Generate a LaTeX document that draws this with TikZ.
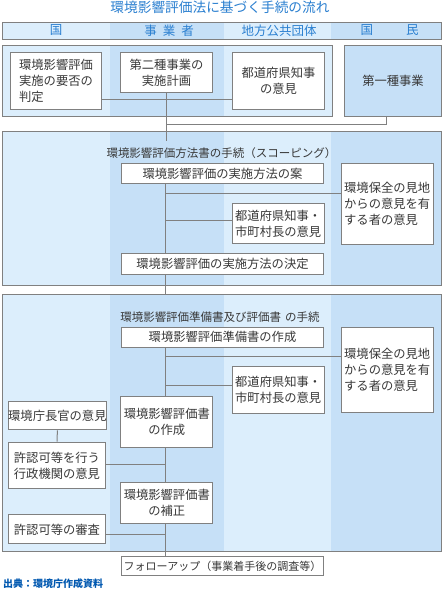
\documentclass[tikz,border=0pt]{standalone}
\usepackage{fontspec}
\setmainfont{Noto Sans CJK JP}
\definecolor{lite}{HTML}{DCEEFC}
\definecolor{dark}{HTML}{C6E0F7}
\definecolor{bord}{HTML}{808080}
\definecolor{txt}{HTML}{383838}
\definecolor{ttl}{HTML}{2A7FD0}
\definecolor{src}{HTML}{0058B0}
\tikzset{
  box/.style={draw=bord, fill=white, line width=1pt, text=txt, inner sep=0pt,
    align=center, anchor=north west, font=\fontsize{12.3}{16}\selectfont},
  frame/.style={draw=bord, line width=1pt},
  conn/.style={draw=bord, line width=1pt},
  sect/.style={text=txt, font=\fontsize{11.5}{14}\selectfont, inner sep=0pt},
  head/.style={text=ttl, font=\fontsize{12.5}{14}\selectfont, inner sep=0pt}
}
\newcommand\mycols[3]{%
  \fill[lite] (2,#1) rectangle (110,#2);
  \fill[dark] (110,#1) rectangle (224,#2);
  \fill[lite] (224,#1) rectangle (331,#2);
  \fill[dark] (331,#1) rectangle (#3,#2);}
\begin{document}
\begin{tikzpicture}[x=1pt,y=-1pt]
\useasboundingbox (0,0) rectangle (443,590);
\fill[white] (0,0) rectangle (443,590);
% title
\node[text=ttl, font=\fontsize{13.7}{15}\selectfont, inner sep=0pt] (title) at (220,7) {環境影響評価法に基づく手続の流れ};
% header
\mycols{22}{39.3}{441}
\draw[frame] (2,22) rectangle (441,39.3);
\node[head] (hk) at (56,30.5) {国};
\node[head] (hj) at (169,30.5) {事\hspace{6pt}業\hspace{6pt}者};
\node[head] (ht) at (279,30.5) {地方公共団体};
\node[head] (hm) at (389.5,30.5) {国\hspace{33pt}民};
% section 1
\fill[lite] (2,45) rectangle (110,116);
\fill[dark] (110,45) rectangle (224,116);
\fill[lite] (224,45) rectangle (332,116);
\draw[frame] (2,45) rectangle (332,116);
\node[draw=bord, line width=1pt, fill=dark, text=txt, inner sep=0pt, anchor=north west,
  minimum width=97pt, minimum height=71pt, font=\fontsize{12.3}{16}\selectfont] (daiichi) at (344,45) {第一種事業};
\node[box, minimum width=91.6pt, minimum height=56.7pt, align=left] (hantei) at (9.7,52) {環境影響評価\\実施の要否の\\判定};
\node[box, minimum width=92pt, minimum height=39.7pt] (dainishu) at (120,52) {第二種事業の\\実施計画};
\node[box, minimum width=92pt, minimum height=56.7pt] (chiji1) at (232,52) {都道府県知事\\の意見};
\coordinate (y99) at (0,99);
\coordinate (j1) at (0,124);
\coordinate (ja) at (386.7,0);
\draw[conn] (hantei.east |- y99) -- (chiji1.west |- y99);
\draw[conn] (dainishu.south) -- (dainishu.south |- j1) -- (ja |- j1) -- (ja |- daiichi.south);
% section 2
\mycols{131}{285}{441}
\draw[frame] (2,131) rectangle (441,285);
\coordinate (s2a) at (0,141);
\draw[conn] (dainishu.south |- j1) -- (dainishu.south |- s2a);
\node[sect] (t2) at (221.5,152.7) {環境影響評価方法書の手続（スコーピング）};
\node[box, minimum width=201.4pt, minimum height=19.7pt] (an) at (121.3,163.3) {環境影響評価の実施方法の案};
\node[box, minimum width=92pt, minimum height=81pt, align=left] (hozen1) at (340.7,163.3) {環境保全の見地\\からの意見を有\\する者の意見};
\node[box, minimum width=92pt, minimum height=40pt, align=left] (chiji2) at (231.7,203.3) {都道府県知事・\\市町村長の意見};
\node[box, minimum width=201.4pt, minimum height=21pt] (kettei) at (121.3,253.3) {環境影響評価の実施方法の決定};
\coordinate (sp) at (165.3,0);
\coordinate (y193) at (0,193);
\coordinate (y220) at (0,220);
\coordinate (y294) at (0,294.3);
\draw[conn] (sp |- an.south) -- (sp |- kettei.north);
\draw[conn] (sp |- y193) -- (hozen1.west |- y193);
\draw[conn] (sp |- y220) -- (chiji2.west |- y220);
\draw[conn] (sp |- kettei.south) -- (sp |- y294);
% section 3
\mycols{294.3}{551}{441}
\draw[frame] (2,294.3) rectangle (441,551);
\node[sect] (t3) at (220,317.3) {環境影響評価準備書及び評価書\hspace{4pt}の手続};
\node[box, minimum width=201.4pt, minimum height=20pt] (junbi) at (121.3,326.7) {環境影響評価準備書の作成};
\node[box, minimum width=92pt, minimum height=85.6pt, align=left] (hozen2) at (340.7,326.7) {環境保全の見地\\からの意見を有\\する者の意見};
\node[box, minimum width=92pt, minimum height=46.7pt, align=left] (chiji3) at (231.7,366) {都道府県知事・\\市町村長の意見};
\node[box, minimum width=92pt, minimum height=51pt] (sakusei) at (120.3,396.3) {環境影響評価書\\の作成};
\node[box, minimum width=97.6pt, minimum height=28pt] (choukan) at (7.7,401.3) {環境庁長官の意見};
\node[box, minimum width=97.6pt, minimum height=46.6pt, align=left] (gyousei) at (7.7,441.7) {許認可等を行う\\行政機関の意見};
\node[box, minimum width=92pt, minimum height=41.6pt] (hosei) at (120.3,481.7) {環境影響評価書\\の補正};
\node[box, minimum width=97.6pt, minimum height=29pt] (shinsa) at (7.7,514.3) {許認可等の審査};
\node[box, minimum width=201.4pt, minimum height=19pt, font=\fontsize{11}{14}\selectfont] (follow) at (121.3,556.3) {フォローアップ（事業着手後の調査等）};
\coordinate (y356) at (0,356);
\coordinate (y385) at (0,385);
\coordinate (y464) at (0,464);
\coordinate (y534) at (0,534.3);
\draw[conn] (sp |- junbi.south) -- (sp |- sakusei.north);
\draw[conn] (sp |- y356) -- (hozen2.west |- y356);
\draw[conn] (sp |- y385) -- (chiji3.west |- y385);
\draw[conn] (sp |- sakusei.south) -- (sp |- hosei.north);
\draw[conn] (choukan.south) -- (gyousei.north);
\draw[conn] (gyousei.east |- y464) -- (sp |- y464);
\draw[conn] (sp |- hosei.south) -- (sp |- follow.north);
\draw[conn] (shinsa.east |- y534) -- (sp |- y534);
% source
\node[text=src, font=\bfseries\fontsize{10}{12}\selectfont, inner sep=0pt, anchor=west] (src) at (3,584) {出典：環境庁作成資料};
\end{tikzpicture}
\end{document}
